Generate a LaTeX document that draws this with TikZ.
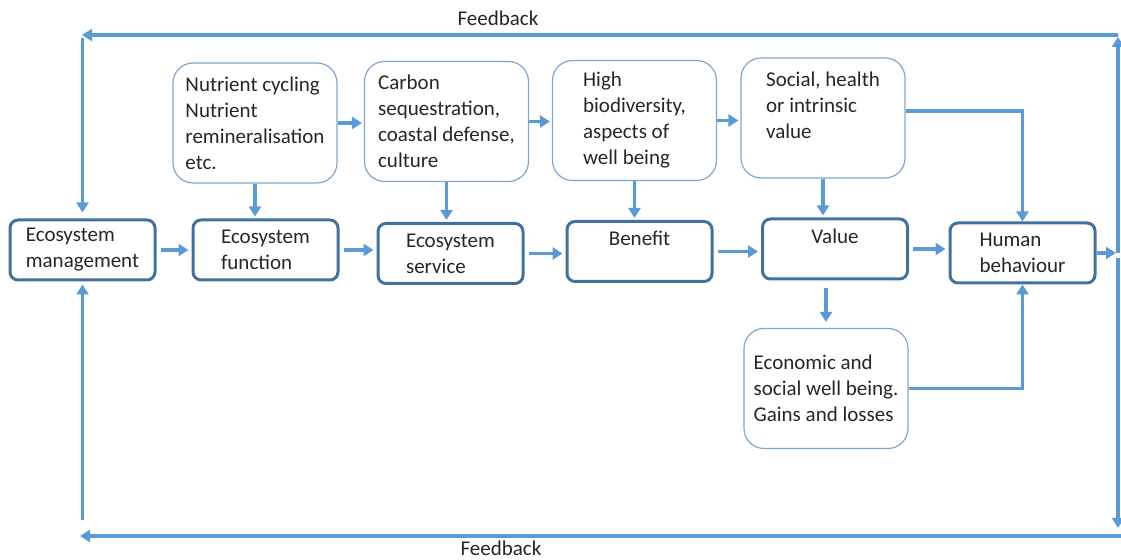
\documentclass[tikz,border=0pt]{standalone}
\usepackage{fontspec}
\setmainfont{Carlito}
\usetikzlibrary{arrows.meta}
\definecolor{arrblue}{HTML}{5B9BD5}
\definecolor{boxblue}{HTML}{41719C}
\definecolor{softblue}{HTML}{7FA6CF}
\begin{document}
\begin{tikzpicture}
      [x=.5pt,y=-.5pt
      ,font=\fontsize{10.5}{13}\selectfont
      ,text=black!85
      ,box/.style={draw=boxblue,line width=1.5pt,rounded corners=4pt,minimum width=72.5pt,minimum height=30pt,align=left,inner sep=2pt}
      ,note/.style={draw=softblue,line width=.6pt,rounded corners=10pt,minimum width=82pt,minimum height=60pt,align=left,inner sep=2pt}
      ,arr/.style={draw=arrblue,line width=1.9pt,-{Triangle[length=5pt,width=6pt]}}
      ]
        \useasboundingbox (0,0) rectangle (1121,560);
        \node[box] (em) at (82.5,250) {Ecosystem\\management};
        \node[box] (ef) at (265.5,250) {Ecosystem\\function};
        \node[box] (es) at (450.5,253.5) {Ecosystem\\service};
        \node[box] (ben) at (639.5,251.5) {Benefit\\\mbox{}};
        \node[box] (val) at (835,249) {Value\\\mbox{}};
        \node[box] (hb) at (1022.5,253) {Human\\behaviour};
        \node[note] (nut) at (255,123) {Nutrient cycling\\Nutrient\\remineralisation\\etc.};
        \node[note] (car) at (446.5,121.5) {Carbon\\sequestration,\\coastal defense,\\culture};
        \node[note] (bio) at (634.5,120.5) {High\\biodiversity,\\aspects of\\well being};
        \node[note] (soc) at (823,118) {Social, health\\or intrinsic\\value\\\mbox{}};
        \node[note] (eco) at (826,388.5) {Economic and\\social well being.\\Gains and losses};
        \node (fbtop) at (498,18) {Feedback};
        \node (fbbot) at (501,548) {Feedback};
        \coordinate (ne) at (1118,37);
        \coordinate (nw) at (82,35);
        \coordinate (se) at (1118,528);
        \coordinate (sw) at (80,536);
        \foreach \a/\b in {em/ef,ef/es,es/ben,ben/val,val/hb}{
          \draw[arr,shorten <=2pt,shorten >=1.5pt] (\a.east) -- (\a.east -| \b.west);
        }
        \foreach \a/\b in {nut/car,car/bio,bio/soc}{
          \draw[arr,shorten >=1pt] (\a.east) -- (\a.east -| \b.west);
        }
        \foreach \a/\b in {nut/ef,car/es,bio/ben,soc/val}{
          \draw[arr,shorten >=1pt] (\a.south) -- (\a.south |- \b.north);
        }
        \draw[arr,shorten <=4pt,shorten >=3pt] (eco.north |- val.south) -- (eco.north);
        \draw[arr] ([yshift=3.5pt]soc.east) -| (hb.north);
        \draw[arr] (eco.east) -| (hb.south);
        % feedback loop
        \draw[arr,shorten >=1pt] (hb.east) -- (hb.east -| ne);
        \draw[arr] (hb.east -| ne) -- (ne);
        \draw[arr] (ne) ++(0,-2) -- (nw);
        \draw[arr,shorten >=3pt] (em.north |- nw) ++(0,3) -- (em.north);
        \draw[arr] (hb.east -| se) ++(0,5) -- (se);
        \draw[arr] (se |- sw) ++(3,0) -- (sw);
        \draw[arr,shorten >=1.5pt] (em.south |- sw) ++(0,-16) -- (em.south);
      \end{tikzpicture}
\end{document}
